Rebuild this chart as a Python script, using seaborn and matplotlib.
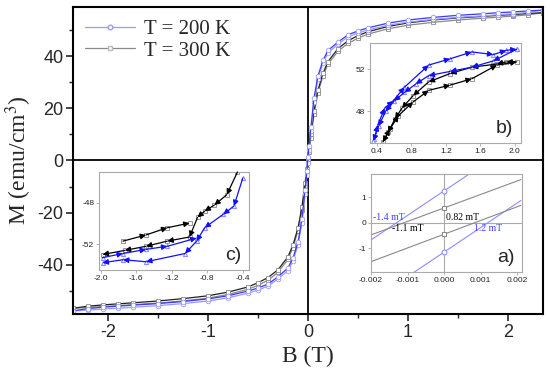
import numpy as np
import pandas as pd
import seaborn as sns
import matplotlib.pyplot as plt
from matplotlib.ticker import MultipleLocator

# ---------------------------------------------------------
# 1. DATA
# ---------------------------------------------------------
# main M(B) loops, common field grid (T)
b_main = [-2.35, -2.2, -2.05, -1.9, -1.75, -1.5, -1.25, -1.0, -0.8, -0.6, -0.5,
          -0.4, -0.3, -0.2, -0.15, -0.1, -0.06, -0.03, -0.01, 0.0, 0.01, 0.03,
          0.06, 0.1, 0.15, 0.2, 0.3, 0.4, 0.5, 0.6, 0.8, 1.0, 1.25, 1.5, 1.75,
          1.9, 2.05, 2.2, 2.35]

# 200 K, descending and ascending branches (emu/cm3)
m200_down = [-57.8, -56.9, -56.4, -56.0, -55.6, -55.0, -54.2, -53.2, -52.0, -50.2, -49.0,
             -47.5, -44.7, -41.3, -37.5, -31.5, -22.5, -11.5, -4.0, 1.25, 5.5, 13.0,
             24.0, 32.5, 38.5, 42.3, 45.5, 48.3, 49.8, 51.0, 52.8, 54.0, 55.0, 55.8, 56.4,
             56.8, 57.1, 57.5, 57.8]
m200_up = [-57.8, -57.5, -57.1, -56.8, -56.4, -55.8, -55.0, -54.0, -52.8, -51.0, -49.8,
           -48.3, -45.5, -42.3, -38.5, -32.5, -24.0, -13.0, -5.5, -1.15, 4.0, 11.5,
           22.5, 31.5, 37.5, 41.3, 44.7, 47.5, 49.0, 50.2, 52.0, 53.2, 54.2, 55.0, 55.6,
           56.0, 56.4, 56.9, 57.8]

# 300 K
m300_down = [-56.8, -56.0, -55.5, -55.1, -54.7, -54.0, -53.1, -52.0, -50.6, -48.6, -47.0,
             -45.0, -42.0, -37.0, -32.5, -26.0, -17.8, -8.8, -3.3, 0.58, 4.5, 10.0,
             19.0, 27.0, 33.5, 38.0, 43.0, 46.0, 48.0, 49.5, 51.5, 52.9, 54.0, 54.8, 55.4,
             55.8, 56.1, 56.5, 56.8]
m300_up = [-56.8, -56.5, -56.1, -55.8, -55.4, -54.8, -54.0, -52.9, -51.5, -49.5, -48.0,
           -46.0, -43.0, -38.0, -33.5, -27.0, -19.0, -10.0, -4.5, -0.45, 3.3, 8.8,
           17.8, 26.0, 32.5, 37.0, 42.0, 45.0, 47.0, 48.6, 50.6, 52.0, 53.1, 54.0, 54.7,
           55.1, 55.5, 56.0, 56.8]

# inset a) : linear part around B = 0 (end points + value at B = 0)
a_b = [-0.0021, 0.0, 0.0021]
a_200_up = [-0.77, 1.25, 3.27]
a_200_lo = [-3.17, -1.15, 0.87]
a_300_up = [-0.53, 0.58, 1.69]
a_300_lo = [-1.58, -0.45, 0.68]

# inset b) : high positive field
b_blue1_b = [0.37, 0.41, 0.49, 0.59, 0.72, 1.0, 1.25, 1.5, 1.75, 1.9, 2.02]
b_blue1_m = [45.4, 46.7, 48.3, 49.0, 50.3, 52.4, 53.0, 53.65, 53.4, 53.8, 53.9]
b_blue2_b = [2.02, 1.75, 1.5, 1.25, 1.0, 0.85, 0.72, 0.6, 0.5, 0.42, 0.36]
b_blue2_m = [53.9, 52.8, 52.2, 51.8, 51.4, 50.6, 49.8, 49.0, 48.0, 46.6, 45.2]
b_blk1_b = [2.02, 1.9, 1.79, 1.5, 1.25, 1.0, 0.82, 0.69, 0.61, 0.53, 0.47]
b_blk1_m = [52.7, 52.7, 52.5, 52.2, 51.6, 50.8, 49.5, 48.3, 47.3, 46.0, 45.1]
b_blk2_b = [0.47, 0.55, 0.65, 0.82, 1.0, 1.25, 1.5, 1.79, 2.02]
b_blk2_m = [45.1, 46.3, 47.6, 48.9, 50.0, 50.5, 51.1, 52.4, 52.7]

# inset c) : high negative field
c_blk1_b = [-0.46, -0.58, -0.72, -0.83, -0.91, -1.0, -1.25, -1.49, -1.73, -1.98]
c_blk1_m = [-45.0, -47.2, -48.2, -48.8, -49.4, -51.3, -51.7, -52.2, -52.6, -53.0]
c_blk2_b = [-1.75, -1.49, -1.25, -1.0]
c_blk2_m = [-51.7, -51.1, -50.4, -49.95]
c_blue1_b = [-0.4, -0.5, -0.62, -0.83, -0.92, -1.05, -1.49, -1.75, -1.98]
c_blue1_m = [-45.6, -48.3, -49.1, -50.4, -51.7, -52.9, -53.7, -53.5, -53.8]
c_blue2_b = [-1.98, -1.75, -1.49, -1.25, -0.92]
c_blue2_m = [-53.3, -52.9, -52.5, -52.2, -51.4]

# ---------------------------------------------------------
# 2. STYLE
# ---------------------------------------------------------
sns.set_theme(style="ticks")
plt.rcParams['font.family'] = ['Liberation Sans', 'DejaVu Sans']
plt.rcParams['mathtext.fontset'] = 'stix'
plt.rcParams['axes.unicode_minus'] = False

SERIF = ['Liberation Serif', 'DejaVu Serif']
BLUE_D, BLUE_L = '#3a3aff', '#9a9aff'
GREY_D, GREY_L = '#222222', '#8a8a8a'

fig = plt.figure(figsize=(5.5, 3.76), dpi=100)
ax = fig.add_axes([0.1327, 0.1649, 0.8545, 0.8165])

# ---------------------------------------------------------
# 3. MAIN LOOPS
# ---------------------------------------------------------
mk = dict(markersize=3.3, markerfacecolor='white', markeredgewidth=0.6, sort=False, ax=ax)
sns.lineplot(x=b_main, y=m300_up, color=GREY_L, lw=0.9, marker='s', markeredgecolor=GREY_L, **mk)
sns.lineplot(x=b_main, y=m300_down, color=GREY_D, lw=0.9, marker='s', markeredgecolor=GREY_L, **mk)
sns.lineplot(x=b_main, y=m200_up, color=BLUE_L, lw=0.9, marker='o', markeredgecolor=BLUE_L, **mk)
sns.lineplot(x=b_main, y=m200_down, color=BLUE_D, lw=0.9, marker='o', markeredgecolor=BLUE_L, **mk)

ax.axhline(0, color='black', lw=1.3, zorder=0)
ax.axvline(0, color='black', lw=1.3, zorder=0)

ax.set_xlim(-2.35, 2.35)
ax.set_ylim(-59, 59)
ax.xaxis.set_major_locator(MultipleLocator(1))
ax.xaxis.set_minor_locator(MultipleLocator(0.5))
ax.yaxis.set_major_locator(MultipleLocator(20))
ax.yaxis.set_minor_locator(MultipleLocator(10))
ax.tick_params(which='major', direction='out', length=5, width=1.2, labelsize=13, pad=2)
ax.tick_params(which='minor', direction='out', length=3, width=1.0)
for s in ax.spines.values():
    s.set_linewidth(1.5)
    s.set_color('black')

ax.set_xlabel('B (T)', fontsize=17, family=SERIF, labelpad=4)
ax.set_ylabel('M (emu/cm$^3$)', fontsize=17, family=SERIF, labelpad=2)

# legend
h200, = ax.plot([], [], color=BLUE_L, lw=0.9, marker='o', ms=3.3, mfc='white', mec=BLUE_L)
h300, = ax.plot([], [], color=GREY_L, lw=0.9, marker='s', ms=3.3, mfc='white', mec='#bbbbbb')
ax.legend([h200, h300], ['T = 200 K', 'T = 300 K'], loc='upper left', frameon=False,
          prop={'family': SERIF, 'size': 15}, handlelength=2.4, borderaxespad=0.2,
          labelspacing=0.1, handletextpad=0.4)


def style_inset(ia):
    ia.set_facecolor('white')
    for s in ia.spines.values():
        s.set_color('#aaaaaa')
        s.set_linewidth(0.8)
    ia.tick_params(direction='out', length=2, width=0.6, color='#aaaaaa',
                   labelsize=6, pad=1.5, labelcolor='#222222')


def arrows(ia, xs, ys, color):
    for i in range(len(xs) - 1):
        ia.annotate('', xy=(xs[i + 1], ys[i + 1]), xytext=(xs[i], ys[i]),
                    arrowprops=dict(arrowstyle='-|>', color=color, lw=0.9,
                                    mutation_scale=8, shrinkA=0, shrinkB=0))

# ---------------------------------------------------------
# 4. INSET b)
# ---------------------------------------------------------
ib = fig.add_axes([0.6727, 0.6197, 0.2745, 0.266])
style_inset(ib)
for xs, ys, mkr, ec in [(b_blk1_b, b_blk1_m, 's', '#999999'), (b_blk2_b, b_blk2_m, 's', '#999999'),
                        (b_blue1_b, b_blue1_m, '^', '#8888ff'), (b_blue2_b, b_blue2_m, '^', '#8888ff')]:
    sns.lineplot(x=xs, y=ys, lw=0, marker=mkr, markersize=3, markerfacecolor='white',
                 markeredgecolor=ec, sort=False, ax=ib)
arrows(ib, b_blk1_b, b_blk1_m, 'black')
arrows(ib, b_blk2_b, b_blk2_m, 'black')
arrows(ib, b_blue1_b, b_blue1_m, '#1010ff')
arrows(ib, b_blue2_b, b_blue2_m, '#1010ff')
ib.set_xlim(0.32, 2.07)
ib.set_ylim(45, 54.5)
ib.set_xticks([0.4, 0.8, 1.2, 1.6, 2.0])
ib.set_yticks([48, 52])
ib.text(0.95, 0.06, 'b)', transform=ib.transAxes, ha='right', va='bottom', fontsize=14)

# ---------------------------------------------------------
# 5. INSET c)
# ---------------------------------------------------------
ic = fig.add_axes([0.18, 0.2819, 0.2727, 0.2606])
style_inset(ic)
for xs, ys, mkr, ec in [(c_blk1_b, c_blk1_m, 's', '#999999'), (c_blk2_b, c_blk2_m, 's', '#999999'),
                        (c_blue1_b, c_blue1_m, '^', '#8888ff'), (c_blue2_b, c_blue2_m, '^', '#8888ff')]:
    sns.lineplot(x=xs, y=ys, lw=0, marker=mkr, markersize=3, markerfacecolor='white',
                 markeredgecolor=ec, sort=False, ax=ic)
arrows(ic, c_blk1_b, c_blk1_m, 'black')
arrows(ic, c_blk2_b, c_blk2_m, 'black')
arrows(ic, c_blue1_b, c_blue1_m, '#1010ff')
arrows(ic, c_blue2_b, c_blue2_m, '#1010ff')
ic.set_xlim(-2.02, -0.33)
ic.set_ylim(-54.5, -45)
ic.set_xticks([-2.0, -1.6, -1.2, -0.8, -0.4])
ic.set_yticks([-52, -48])
ic.text(0.95, 0.06, 'c)', transform=ic.transAxes, ha='right', va='bottom', fontsize=14)

# ---------------------------------------------------------
# 6. INSET a)
# ---------------------------------------------------------
ia = fig.add_axes([0.6745, 0.2766, 0.2745, 0.2606])
style_inset(ia)
ia.axhline(0, color='#aaaaaa', lw=0.8, zorder=0)
ia.axvline(0, color='#aaaaaa', lw=0.8, zorder=0)
for ys, col, mkr in [(a_200_up, '#8c8cff', 'o'), (a_200_lo, '#8c8cff', 'o'),
                     (a_300_up, '#888888', 's'), (a_300_lo, '#888888', 's')]:
    sns.lineplot(x=a_b, y=ys, color=col, lw=0.8, marker=mkr, markersize=3.5,
                 markevery=[1], markerfacecolor='white', markeredgecolor=col,
                 sort=False, ax=ia)
ia.set_xlim(-0.002, 0.00213)
ia.set_ylim(-1.93, 1.91)
ia.set_xticks([-0.002, -0.001, 0.0, 0.001, 0.002])
ia.set_xticklabels(['-0.002', '-0.001', '0.000', '0.001', '0.002'])
ia.set_yticks([-1, 0, 1])
tk = dict(fontsize=7, family=SERIF)
ia.text(-0.00195, 0.03, '-1.4 mT', color='#4040ff', ha='left', va='bottom', **tk)
ia.text(-0.0010, -0.05, '-1.1 mT', color='black', ha='center', va='top', **tk)
ia.text(0.00005, 0.03, '0.82 mT', color='black', ha='left', va='bottom', **tk)
ia.text(0.0012, -0.05, '1.2 mT', color='#4040ff', ha='center', va='top', **tk)
ia.text(0.95, 0.06, 'a)', transform=ia.transAxes, ha='right', va='bottom', fontsize=14)

plt.savefig('out.png', dpi=100)
